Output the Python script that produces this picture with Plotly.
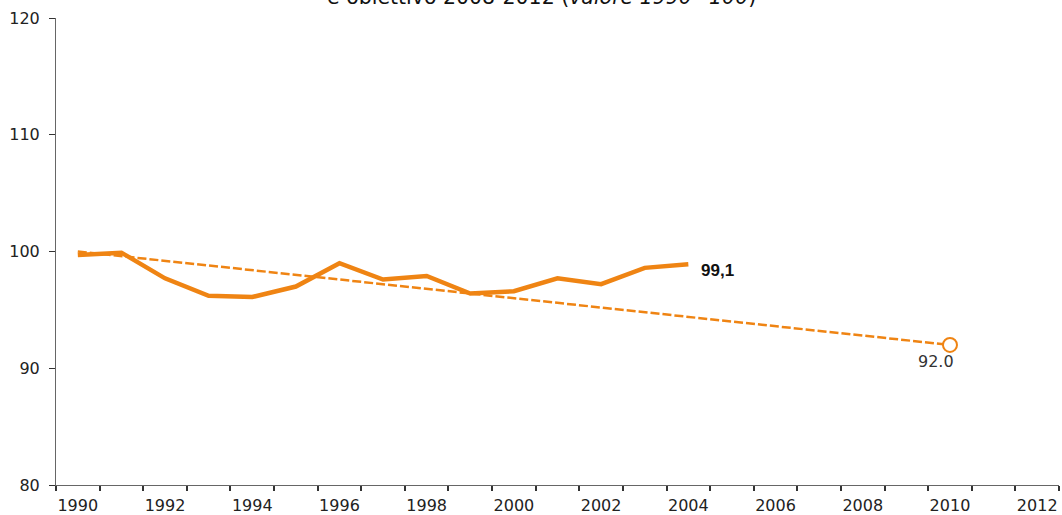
import plotly.graph_objects as go

years = list(range(1990, 2005))
emissions = [99.7, 99.9, 97.7, 96.2, 96.1, 97.0, 99.0, 97.6, 97.9, 96.4, 96.6, 97.7, 97.2, 98.6, 98.9]
target_years = [1990, 2010]
target_values = [100.0, 92.0]
tick_years = list(range(1990, 2013, 2))
tick_labels = [str(y) for y in tick_years]
title_text = "e obiettivo 2008-2012 (<i>valore 1990=100</i>)"
last_label = "99,1"
target_label = "92.0"

orange = "#EF8413"

fig = go.Figure()
fig.add_trace(go.Scatter(
    x=target_years, y=target_values, mode="lines",
    line=dict(color=orange, width=2.5, dash="9px,3px"),
    hoverinfo="skip", showlegend=False))
fig.add_trace(go.Scatter(
    x=years, y=emissions, mode="lines",
    line=dict(color=orange, width=4.5),
    showlegend=False))
fig.add_trace(go.Scatter(
    x=[target_years[-1]], y=[target_values[-1]], mode="markers",
    marker=dict(symbol="circle", size=14, color="white",
                line=dict(color=orange, width=2)),
    showlegend=False))

fig.add_annotation(x=years[-1], y=emissions[-1], text="<b>" + last_label + "</b>",
                   showarrow=False, xanchor="left", yanchor="middle",
                   xshift=11, yshift=-6,
                   font=dict(family="Liberation Sans", size=17, color="#111"))
fig.add_annotation(x=target_years[-1], y=target_values[-1], text=target_label,
                   showarrow=False, xanchor="center", yanchor="middle",
                   xshift=-14, yshift=-17,
                   font=dict(family="DejaVu Sans", size=16, color="#333"))
fig.add_annotation(xref="paper", yref="paper", x=0.4836, y=1.015,
                   text=title_text, showarrow=False,
                   xanchor="center", yanchor="bottom",
                   font=dict(family="DejaVu Sans", size=20.5, color="#111"))

fig.update_layout(
    width=1062, height=515,
    margin=dict(l=56, r=3, t=18, b=30),
    paper_bgcolor="white", plot_bgcolor="white",
    font=dict(family="DejaVu Sans", size=16, color="#222"),
    xaxis=dict(range=[1989.5, 2012.5], tickvals=tick_years, ticktext=tick_labels,
               ticks="", showgrid=False, zeroline=False, automargin=False,
               showline=True, linecolor="#666", linewidth=1,
               ticklabelstandoff=6,
               minor=dict(tick0=1989.5, dtick=1, ticks="outside", ticklen=5,
                          tickcolor="#333", tickwidth=1.5, showgrid=False),
               tickfont=dict(family="DejaVu Sans", size=16, color="#222")),
    yaxis=dict(range=[80, 120], dtick=10, ticks="outside", ticklen=6,
               tickcolor="#333", showgrid=False, zeroline=False, automargin=False,
               showline=True, linecolor="#666", linewidth=1,
               ticklabelstandoff=6,
               tickfont=dict(family="DejaVu Sans", size=16, color="#222")),
)

fig.write_html("out.html", config={"displayModeBar": False},
               post_script="document.body.style.margin='0';document.body.style.overflow='hidden';")
